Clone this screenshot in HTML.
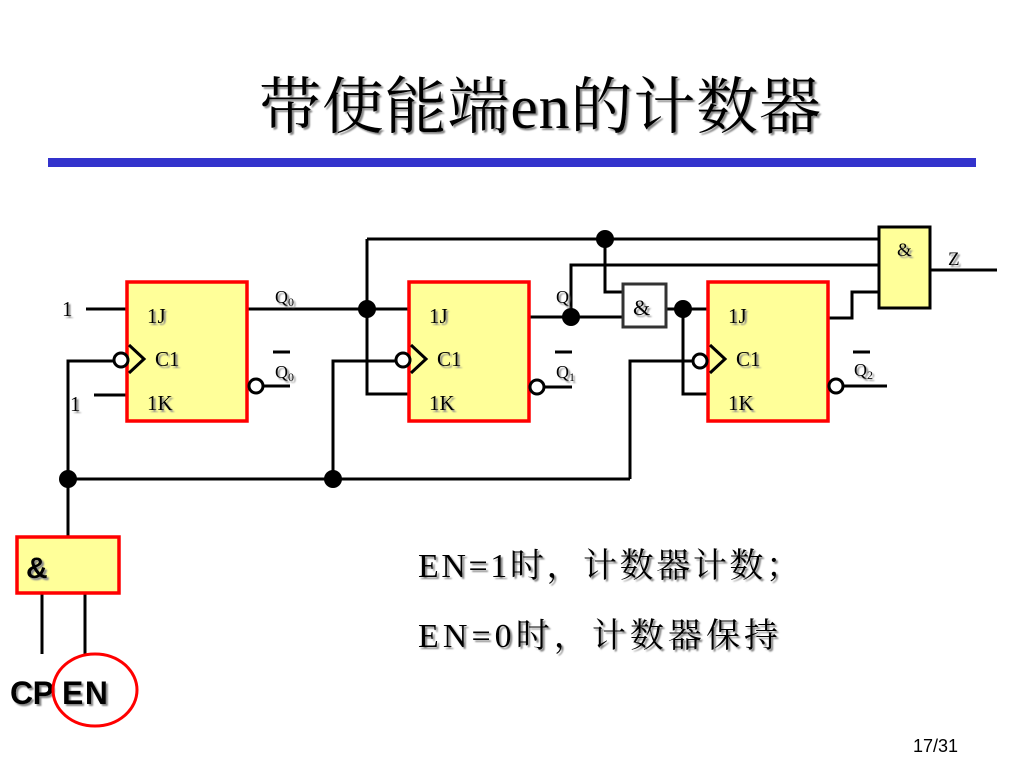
<!DOCTYPE html>
<html><head><meta charset="utf-8"><style>
html,body{margin:0;padding:0;background:#fff;}
svg{display:block}
.s{font-family:"Liberation Serif","Noto Serif CJK SC",serif;}
</style></head><body>
<svg width="1024" height="768" viewBox="0 0 1024 768" xmlns="http://www.w3.org/2000/svg">
<defs><filter id="sh"><feDropShadow dx="2" dy="2" stdDeviation="0.8" flood-color="#888"/></filter></defs>
<text x="540" y="128" text-anchor="middle" class="s" font-size="62" filter="url(#sh)" textLength="562">带使能端en的计数器</text>
<rect x="48" y="158" width="928" height="9" fill="#3333cc"/>

<g stroke="#000" stroke-width="3" fill="none">
<line x1="86" y1="309" x2="127" y2="309"/>
<line x1="94" y1="395" x2="127" y2="395"/>
<polyline points="116,361 68,361 68,537"/>
<line x1="68" y1="479" x2="630" y2="479"/>
<line x1="247" y1="309" x2="409" y2="309"/>
<polyline points="367,239 367,394 409,394"/>
<line x1="367" y1="239" x2="879" y2="239"/>
<polyline points="605,239 605,292 623,292"/>
<polyline points="333,479 333,361 397,361"/>
<line x1="529" y1="317" x2="623" y2="317"/>
<polyline points="571,317 571,265 879,265"/>
<line x1="666" y1="309" x2="708" y2="309"/>
<polyline points="683,309 683,394 708,394"/>
<polyline points="630,479 630,361 693,361"/>
<polyline points="828,318 852,318 852,292 879,292"/>
<line x1="930" y1="270" x2="997" y2="270"/>
<line x1="262" y1="386" x2="290" y2="386"/>
<line x1="543" y1="387" x2="572" y2="387"/>
<line x1="842" y1="386" x2="887" y2="386"/>
<line x1="42" y1="593" x2="42" y2="654"/>
<line x1="85" y1="593" x2="85" y2="654"/>
</g>

<g stroke="#ff0000" stroke-width="3.5" fill="#ffff99">
<rect x="127" y="282" width="120" height="139"/>
<rect x="409" y="282" width="120" height="139"/>
<rect x="708" y="282" width="120" height="139"/>
<rect x="17" y="537" width="102" height="56"/>
</g>
<rect x="879" y="227" width="51" height="81" fill="#ffff99" stroke="#000" stroke-width="3"/>
<rect x="623" y="284" width="43" height="43" fill="#fff" stroke="#333" stroke-width="3"/>

<g stroke="#000" stroke-width="3" fill="#fff">
<polyline points="129,345 144,359 129,373" fill="none"/>
<polyline points="411,345 426,359 411,373" fill="none"/>
<polyline points="710,345 725,359 710,373" fill="none"/>
<circle cx="121" cy="360" r="7"/>
<circle cx="403" cy="360" r="7"/>
<circle cx="700" cy="361" r="7"/>
<circle cx="256" cy="386" r="7"/>
<circle cx="537" cy="387" r="7"/>
<circle cx="836" cy="386" r="7"/>
</g>
<g fill="#000">
<circle cx="367" cy="309" r="9"/>
<circle cx="605" cy="239" r="9"/>
<circle cx="571" cy="317" r="9"/>
<circle cx="683" cy="309" r="9"/>
<circle cx="68" cy="479" r="9"/>
<circle cx="333" cy="479" r="9"/>
</g>

<g class="s" font-size="21" filter="url(#sh)">
<text x="62" y="316">1</text>
<text x="70" y="411">1</text>
<text x="147" y="323">1J</text><text x="155" y="366">C1</text><text x="147" y="410">1K</text>
<text x="429" y="323">1J</text><text x="437" y="366">C1</text><text x="429" y="410">1K</text>
<text x="728" y="323">1J</text><text x="736" y="366">C1</text><text x="728" y="410">1K</text>
<text x="275" y="303" font-size="18">Q<tspan font-size="12" dy="3">0</tspan></text>
<text x="275" y="378" font-size="18">Q<tspan font-size="12" dy="3">0</tspan></text>
<text x="556" y="303" font-size="18">Q</text>
<text x="556" y="378" font-size="18">Q<tspan font-size="12" dy="3">1</tspan></text>
<text x="854" y="376" font-size="18">Q<tspan font-size="12" dy="3">2</tspan></text>
<text x="633" y="315" font-size="22">&amp;</text>
<text x="897" y="256" font-size="19">&amp;</text>
<text x="948" y="265" font-size="19">Z</text>
</g>
<g stroke="#000" stroke-width="3">
<line x1="273" y1="352" x2="290" y2="352"/>
<line x1="555" y1="352" x2="572" y2="352"/>
<line x1="853" y1="352" x2="870" y2="352"/>
</g>

<text x="26" y="578" font-family="Liberation Sans,sans-serif" font-weight="bold" font-size="30" filter="url(#sh)">&amp;</text>
<text x="10" y="704" font-family="Liberation Sans,sans-serif" font-weight="bold" font-size="32" filter="url(#sh)" textLength="44">CP</text>
<text x="62" y="704" font-family="Liberation Sans,sans-serif" font-weight="bold" font-size="32" filter="url(#sh)" textLength="46">EN</text>
<ellipse cx="95" cy="690" rx="42" ry="36" fill="none" stroke="#ff0000" stroke-width="3"/>

<text x="418" y="577" class="s" font-size="34" filter="url(#sh)" textLength="382">EN=1时，计数器计数；</text>
<text x="418" y="647" class="s" font-size="34" filter="url(#sh)" textLength="360">EN=0时，计数器保持</text>
<text x="913" y="752" font-family="Liberation Sans,sans-serif" font-size="18">17/31</text>
</svg>
</body></html>
